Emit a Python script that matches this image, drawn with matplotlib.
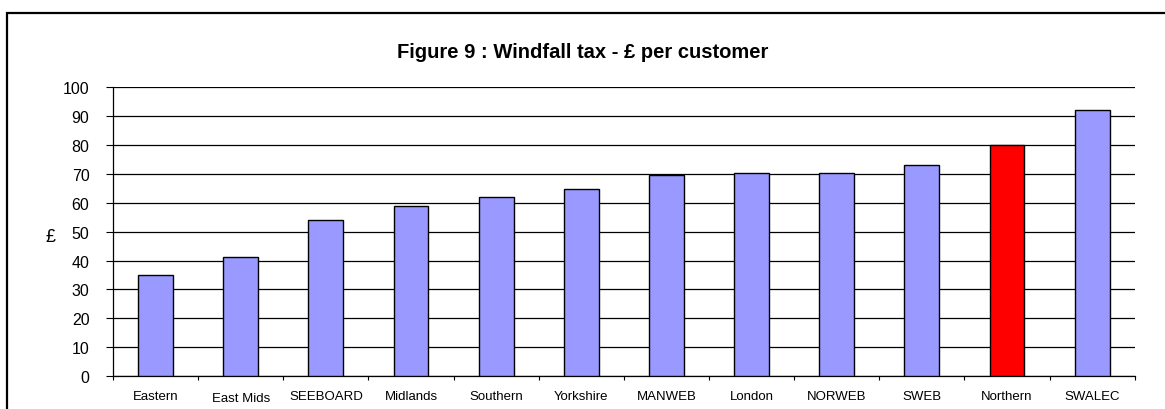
import numpy as np
import matplotlib.pyplot as plt
from matplotlib.patches import Rectangle

plt.rcParams['font.family'] = ['Liberation Sans', 'DejaVu Sans']

regions = ["Eastern", "East Mids", "SEEBOARD", "Midlands", "Southern", "Yorkshire",
           "MANWEB", "London", "NORWEB", "SWEB", "Northern", "SWALEC"]
values = [35, 41.2, 54.1, 59, 62.1, 64.8, 69.5, 70.2, 70.2, 73.2, 80.1, 92]
highlight = "Northern"

fig = plt.figure(figsize=(11.65, 4.10), dpi=100)
ax = fig.add_axes([0.097, 0.0805, 0.877, 0.704])

colors = ['#ff0000' if r == highlight else '#9999ff' for r in regions]
x = np.arange(len(regions))
ax.bar(x, values, width=0.41, color=colors, edgecolor='black', linewidth=1.0, zorder=3)

ax.set_xlim(-0.5, len(regions) - 0.5)
ax.set_ylim(0, 100)
ax.set_yticks(range(0, 101, 10))
ax.tick_params(axis='y', labelsize=11.5, length=5, width=0.8, direction='out', pad=12)
ax.yaxis.grid(True, color='black', linewidth=0.9, zorder=0)

ax.set_xticks(np.arange(-0.5, len(regions), 1.0))
ax.set_xticklabels([])
ax.tick_params(axis='x', length=3, width=0.8, direction='out')
for i, r in enumerate(regions):
    dy = -11.5 if r == "East Mids" else -10
    ax.annotate(r, (i, 0), xytext=(0, dy), textcoords='offset points',
                ha='center', va='top', fontsize=9.5, xycoords='data')

for s in ['top', 'right']:
    ax.spines[s].set_visible(False)
ax.spines['left'].set_linewidth(0.9)
ax.spines['bottom'].set_linewidth(0.9)

fig.text(51 / 1165, 1 - 238 / 410, "£", ha='center', va='center', fontsize=13)

fig.text(0.5, 0.873, "Figure 9 : Windfall tax - £ per customer", ha='center', va='center',
         fontsize=14.5, fontweight='bold')

# outer chart border
fig.patches.append(Rectangle((7 / 1165, -0.1), 1.2, 1.1 - 13.5 / 410,
                             transform=fig.transFigure, fill=False,
                             edgecolor='black', linewidth=1.6))

fig.savefig("out.png", dpi=100)
